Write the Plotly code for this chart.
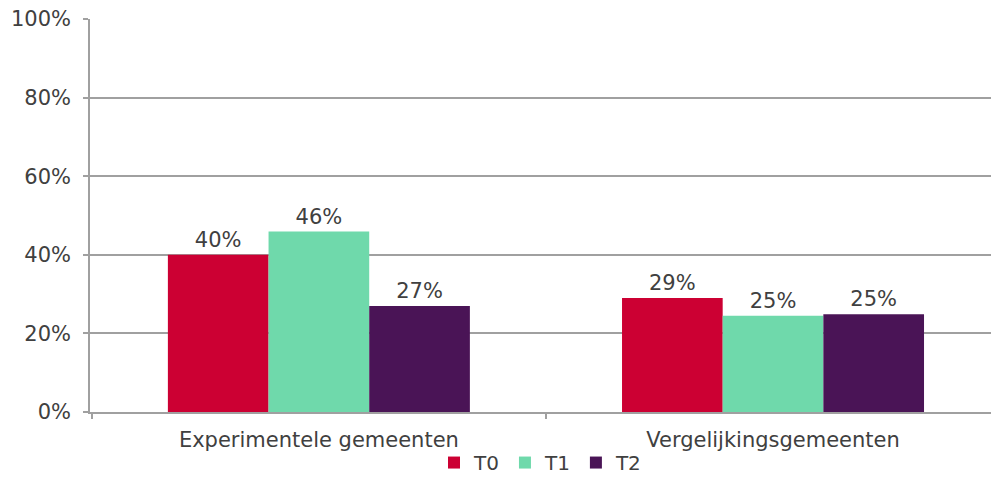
import plotly.graph_objects as go

categories = ["Experimentele gemeenten", "Vergelijkingsgemeenten"]
series_names = ["T0", "T1", "T2"]
t0_values = [40.0, 29.0]
t1_values = [45.9, 24.5]
t2_values = [27.0, 24.9]
series_colors = ["#cc0033", "#6fd9ab", "#4a1456"]
y_ticks = [0, 20, 40, 60, 80, 100]
y_tick_labels = ["0%", "20%", "40%", "60%", "80%", "100%"]

font_family = "DejaVu Sans"
font_size = 21
text_color = "#404040"
grid_color = "#a0a0a0"

fig = go.Figure()
for name, values, color in zip(series_names, [t0_values, t1_values, t2_values], series_colors):
    fig.add_trace(go.Bar(
        name=name,
        x=categories,
        y=values,
        marker=dict(color=color, line=dict(width=0)),
        texttemplate="%{y:.0f}%",
        textposition="outside",
        textfont=dict(family=font_family, size=font_size, color=text_color),
        cliponaxis=False,
    ))

fig.update_layout(
    width=991,
    height=477,
    margin=dict(l=90, r=0, t=19, b=65, autoexpand=False),
    paper_bgcolor="white",
    plot_bgcolor="white",
    barmode="group",
    bargap=0.335,
    bargroupgap=0,
    font=dict(family=font_family, size=font_size, color=text_color),
    showlegend=True,
    legend=dict(
        orientation="h",
        x=0.5,
        xanchor="center",
        y=-0.079,
        yanchor="top",
        font=dict(family=font_family, size=20, color=text_color),
        itemwidth=30,
        tracegroupgap=0,
        borderwidth=0,
        bgcolor="rgba(0,0,0,0)",
    ),
    xaxis=dict(
        type="category",
        range=[-0.504, 1.48],
        showline=True,
        linecolor=grid_color,
        linewidth=1.5,
        ticks="outside",
        tickson="boundaries",
        ticklen=5,
        tickwidth=1.5,
        tickcolor=grid_color,
        showgrid=False,
        ticklabelstandoff=8,
        tickfont=dict(family=font_family, size=font_size, color=text_color),
    ),
    yaxis=dict(
        range=[0, 100],
        tickvals=y_ticks,
        ticktext=y_tick_labels,
        showline=True,
        linecolor=grid_color,
        linewidth=1.5,
        ticks="outside",
        ticklen=5,
        tickwidth=1.5,
        tickcolor=grid_color,
        showgrid=True,
        gridcolor=grid_color,
        gridwidth=1.5,
        zeroline=False,
        ticklabelstandoff=8,
        tickfont=dict(family=font_family, size=font_size, color=text_color),
    ),
)

fig.write_html("out.html")
